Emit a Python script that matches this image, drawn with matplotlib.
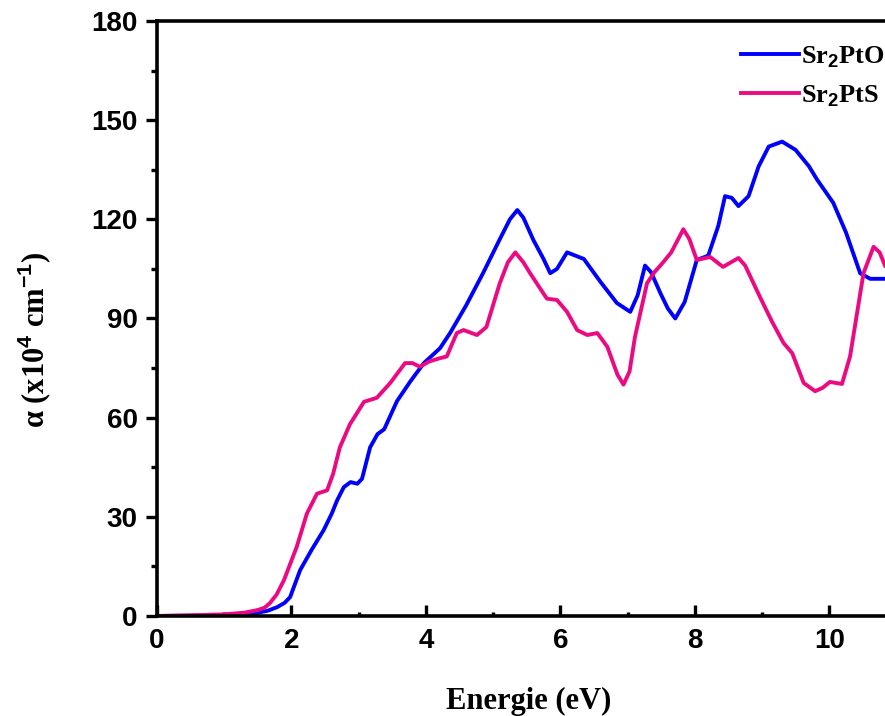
import matplotlib
matplotlib.use("Agg")
import matplotlib.pyplot as plt
from matplotlib.ticker import MultipleLocator

# Energie (eV) und Absorptionskoeffizient (x10^4 cm^-1)
energy_o = [0.0, 0.5, 1.0, 1.3, 1.5, 1.65, 1.79, 1.9, 1.98, 2.13, 2.3, 2.48, 2.6, 2.68, 2.78,
            2.88, 2.98, 3.05, 3.17, 3.28, 3.38, 3.57, 3.77, 3.97, 4.21, 4.36, 4.6, 4.85, 5.1,
            5.25, 5.36, 5.45, 5.6, 5.75, 5.85, 5.95, 6.1, 6.35, 6.6, 6.84, 7.04, 7.15,
            7.26, 7.35, 7.49, 7.6, 7.71, 7.85, 8.03, 8.2, 8.35, 8.45, 8.55, 8.65, 8.8,
            8.95, 9.1, 9.3, 9.5, 9.7, 9.82, 10.06, 10.25, 10.46, 10.61, 10.83]
alpha_o = [0.0, 0.1, 0.3, 0.6, 1.0, 1.6, 2.7, 4.0, 5.7, 13.9, 20.0, 26.0, 31.0, 35.0, 39.0,
           40.5, 40.0, 41.5, 51.0, 55.0, 56.5, 65.0, 71.0, 76.5, 81.0, 85.6, 94.0, 103.7, 114.0,
           120.0, 122.8, 120.5, 113.7, 108.0, 103.7, 105.0, 110.0, 108.0, 101.0, 94.7, 92.0, 97.0,
           106.0, 104.0, 97.6, 93.0, 90.0, 95.0, 107.7, 109.0, 118.0, 127.0, 126.5, 124.0, 127.0,
           136.0, 142.0, 143.5, 141.0, 136.0, 132.0, 125.0, 116.0, 103.7, 102.0, 102.0]

energy_s = [0.0, 0.5, 1.0, 1.3, 1.5, 1.6, 1.68, 1.78, 1.89, 2.08, 2.23, 2.38, 2.53, 2.62,
            2.72, 2.87, 3.08, 3.27, 3.47, 3.69, 3.8, 3.91, 4.05, 4.21, 4.31, 4.46, 4.56,
            4.76, 4.9, 5.1, 5.22, 5.33, 5.45, 5.55, 5.8, 5.95, 6.1, 6.25, 6.4, 6.55, 6.7,
            6.85, 6.94, 7.03, 7.11, 7.29, 7.4, 7.53, 7.65, 7.83, 7.92, 8.03, 8.23, 8.42,
            8.65, 8.75, 8.97, 9.15, 9.32, 9.45, 9.62, 9.79, 9.9, 10.01, 10.19, 10.31, 10.51,
            10.66, 10.75, 10.83]
alpha_s = [0.0, 0.2, 0.5, 1.0, 1.8, 2.5, 3.9, 6.5, 10.9, 21.0, 31.0, 37.0, 38.0, 43.0,
           51.0, 58.0, 64.8, 66.0, 70.5, 76.5, 76.5, 75.4, 77.0, 78.0, 78.5, 85.6, 86.5,
           85.0, 87.4, 100.7, 107.0, 110.0, 107.0, 103.7, 96.0, 95.6, 92.0, 86.5, 85.0, 85.6, 81.4,
           73.0, 70.0, 74.0, 84.4, 100.7, 104.0, 107.0, 110.0, 117.0, 114.0, 107.7, 108.6, 105.6,
           108.3, 106.0, 96.5, 89.0, 82.6, 79.5, 70.5, 68.0, 69.0, 70.8, 70.2, 78.5, 103.7,
           111.7, 110.0, 106.0]

plt.rcParams["font.family"] = ["Liberation Sans", "DejaVu Sans"]
plt.rcParams["mathtext.fontset"] = "custom"
plt.rcParams["mathtext.rm"] = "Liberation Serif"
plt.rcParams["mathtext.bf"] = "Liberation Sans:bold"

fig = plt.figure(figsize=(8.85, 7.16), dpi=100)
ax = fig.add_axes([0.1774, 0.1397, 0.8226, 0.831])

ax.plot(energy_o, alpha_o, color="#0000ff", lw=2.8, label=r"Sr$_\mathbf{2}$PtO")
ax.plot(energy_s, alpha_s, color="#ec0a82", lw=2.8, label=r"Sr$_\mathbf{2}$PtS")

ax.set_xlim(0, 10.83)
ax.set_ylim(0, 180)
ax.xaxis.set_major_locator(MultipleLocator(2))
ax.xaxis.set_minor_locator(MultipleLocator(1))
ax.yaxis.set_major_locator(MultipleLocator(30))
ax.yaxis.set_minor_locator(MultipleLocator(15))

ax.tick_params(axis="x", which="major", direction="in", length=8, width=2.4,
               labelsize=20, pad=9, top=False)
ax.tick_params(axis="x", which="minor", direction="in", length=3, width=2.4, top=False)
ax.tick_params(axis="y", which="major", direction="out", length=8, width=2.4,
               labelsize=20, pad=6, right=False)
ax.tick_params(axis="y", which="minor", direction="out", length=4, width=2.4, right=False)
for lab in ax.get_xticklabels() + ax.get_yticklabels():
    lab.set_fontweight("bold")

for side in ["left", "bottom", "top"]:
    ax.spines[side].set_linewidth(2.6)
ax.spines["right"].set_visible(False)

ax.set_xlabel("Energie (eV)", family="Liberation Serif", fontsize=22,
              fontweight="bold")
ax.xaxis.set_label_coords(0.51, -0.12)
ax.set_ylabel(r"α (x10$^\mathbf{4}$ cm$^\mathbf{-1}$)", family="Liberation Serif",
              fontsize=22, fontweight="bold")
ax.yaxis.set_label_coords(-0.143, 0.465)

leg = ax.legend(loc="upper right", frameon=False, handlelength=2.2,
                prop={"family": "Liberation Serif", "weight": "bold", "size": 19},
                borderaxespad=0.15, labelspacing=0.5, handletextpad=0.1,
                bbox_to_anchor=(1.02, 0.985))

fig.savefig("out.png", dpi=100)
